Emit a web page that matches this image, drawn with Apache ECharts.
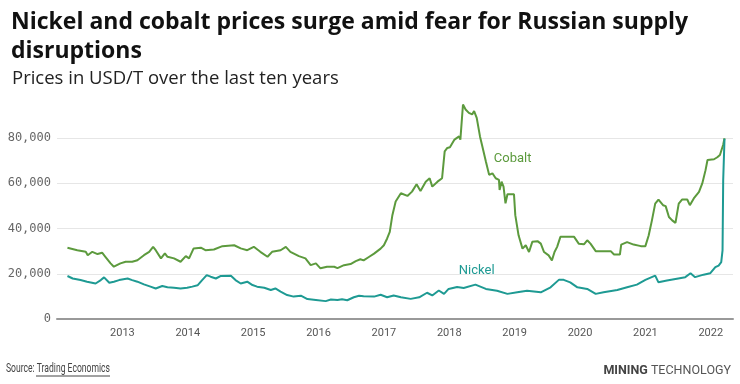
<!DOCTYPE html>
<html>
<head>
<meta charset="utf-8">
<script src="https://cdn.jsdelivr.net/npm/echarts@6/dist/echarts.min.js"></script>
<style>
html,body{margin:0;padding:0;background:#fff;}
#chart{width:740px;height:384px;}
</style>
</head>
<body>
<div id="chart"></div>
<script>
// Data (decimal years, USD/T)
const cobaltDates = [2012.16,2012.18,2012.31,2012.44,2012.47,2012.54,2012.62,2012.69,2012.74,2012.82,2012.87,2012.97,2013.05,2013.15,2013.23,2013.33,2013.41,2013.47,2013.51,2013.59,2013.65,2013.69,2013.79,2013.89,2013.97,2014.02,2014.09,2014.20,2014.27,2014.40,2014.53,2014.71,2014.81,2014.91,2015.01,2015.11,2015.22,2015.29,2015.42,2015.50,2015.57,2015.70,2015.80,2015.88,2015.96,2016.03,2016.13,2016.24,2016.29,2016.39,2016.49,2016.57,2016.64,2016.69,2016.77,2016.85,2016.95,2017.00,2017.05,2017.09,2017.13,2017.18,2017.26,2017.36,2017.43,2017.50,2017.56,2017.64,2017.70,2017.74,2017.82,2017.89,2017.93,2017.97,2018.01,2018.02,2018.08,2018.10,2018.15,2018.17,2018.21,2018.25,2018.30,2018.35,2018.38,2018.42,2018.47,2018.50,2018.56,2018.61,2018.66,2018.71,2018.76,2018.77,2018.80,2018.83,2018.86,2018.89,2018.99,2019.01,2019.06,2019.12,2019.17,2019.22,2019.27,2019.35,2019.40,2019.45,2019.52,2019.57,2019.61,2019.65,2019.70,2019.78,2019.91,2019.98,2020.06,2020.11,2020.16,2020.19,2020.24,2020.47,2020.52,2020.61,2020.63,2020.72,2020.82,2020.93,2021.00,2021.05,2021.10,2021.15,2021.20,2021.27,2021.31,2021.36,2021.41,2021.46,2021.51,2021.56,2021.64,2021.68,2021.74,2021.82,2021.87,2021.92,2021.95,2022.05,2022.10,2022.14,2022.19,2022.21];
const cobaltValues = [31500,32300,30400,29700,28200,29700,28700,29300,27500,24600,23100,24600,25300,25300,26000,28200,29700,31900,30400,26800,29000,27500,26800,25300,27800,26800,31200,31500,30400,30700,32200,32600,31200,30400,31900,29700,27500,29700,30400,31900,29700,27800,26800,23800,24600,22400,23100,23100,22500,23800,24300,25600,26400,25900,27400,28900,31100,32600,35600,38500,45900,51900,55600,54400,56300,59600,56600,60700,62200,58500,60700,62200,74100,75600,75900,75600,79300,80000,80700,79300,94800,92600,91100,90400,91900,88900,80700,77000,69600,63700,64400,62200,61500,57000,60700,58500,51100,55100,55100,45900,37000,31100,32600,29600,34100,34400,33300,29600,28100,25900,29600,31900,36300,36300,36300,33300,33000,34800,33300,32500,30000,30000,28500,28500,32900,34000,32900,32200,32200,36900,43600,51000,52800,50300,49900,45100,43600,42500,51000,52800,52800,50300,53300,56200,59900,65800,70300,70600,71500,72500,77000,79900];

const nickelDates = [2012.16,2012.24,2012.36,2012.46,2012.59,2012.67,2012.72,2012.80,2012.87,2012.95,2013.08,2013.15,2013.23,2013.33,2013.43,2013.51,2013.61,2013.69,2013.79,2013.89,2013.99,2014.07,2014.15,2014.22,2014.29,2014.35,2014.43,2014.50,2014.66,2014.73,2014.81,2014.91,2014.99,2015.06,2015.17,2015.27,2015.34,2015.42,2015.52,2015.62,2015.73,2015.83,2015.96,2016.11,2016.19,2016.29,2016.36,2016.44,2016.54,2016.62,2016.69,2016.85,2016.95,2017.05,2017.15,2017.26,2017.41,2017.54,2017.66,2017.74,2017.84,2017.92,2017.99,2018.12,2018.22,2018.40,2018.56,2018.73,2018.89,2019.04,2019.19,2019.40,2019.55,2019.68,2019.75,2019.85,2019.96,2020.11,2020.24,2020.36,2020.57,2020.72,2020.87,2021.00,2021.15,2021.20,2021.33,2021.46,2021.61,2021.69,2021.76,2021.89,2021.99,2022.07,2022.12,2022.16,2022.18,2022.19,2022.21];
const nickelValues = [19000,17900,17200,16500,15700,17200,18400,16000,16500,17200,17900,17200,16500,15300,14300,13500,14600,14000,13800,13500,13800,14300,14900,17200,19400,18700,17900,19000,19100,17200,15700,16500,15000,14300,13800,12800,13500,12100,10600,9900,10300,8800,8400,7900,8600,8400,8700,8300,9600,10300,10100,9900,10700,9600,10400,9600,8900,9600,11600,10400,12600,11100,13300,14100,13700,15200,13300,12500,11100,11800,12500,11800,14000,17400,17300,16200,14000,13300,11100,11800,12800,14000,15200,17300,19200,16200,17000,17700,18500,20200,18500,19600,20200,22900,23600,25100,30300,61300,79700];

const yTicks = [0, 20000, 40000, 60000, 80000];
const seriesNames = ['Cobalt', 'Nickel'];
const labelAnchors = { Cobalt: [2018.97, 70700], Nickel: [2018.42, 21200] };

const COBALT = '#5c9a3d';
const NICKEL = '#1e9a93';

const zip = (xs, ys) => xs.map((x, i) => [x, ys[i]]);

const chart = echarts.init(document.getElementById('chart'), null, {renderer: 'canvas'});

function seriesLabel(name, color) {
  return {
    symbol: 'circle', symbolSize: 0,
    data: [{ coord: labelAnchors[name], value: name }],
    label: { show: true, position: 'inside', formatter: name, color: color,
             fontFamily: 'Roboto', fontSize: 13 },
    itemStyle: { color: 'transparent' },
    silent: true
  };
}

chart.setOption({
  animation: false,
  backgroundColor: '#ffffff',
  title: [
    { text: 'Nickel and cobalt prices surge amid fear for Russian supply\ndisruptions',
      left: 6, top: 3,
      textStyle: { fontFamily: 'Open Sans', fontWeight: 700, fontSize: 23, lineHeight: 29, color: '#111' } },
    { text: 'Prices in USD/T over the last ten years',
      left: 7, top: 64,
      textStyle: { fontFamily: 'Open Sans', fontWeight: 400, fontSize: 18.5, color: '#222' } },
    { text: '{b|MINING}{r| TECHNOLOGY}',
      right: 4, top: 359,
      textStyle: { rich: {
        b: { fontFamily: 'Roboto', fontWeight: 700, fontSize: 12.5, color: '#444' },
        r: { fontFamily: 'Roboto', fontWeight: 400, fontSize: 12.5, color: '#555' } } } }
  ],
  grid: { left: 57, right: 7, top: 138, bottom: 65 },
  xAxis: {
    type: 'value', min: 2012, max: 2022.34, interval: 1,
    axisLine: { show: true, onZero: false, lineStyle: { color: '#999', width: 2 } },
    axisTick: { show: false },
    splitLine: { show: false },
    axisLabel: { color: '#555', fontFamily: 'Roboto', fontSize: 11, margin: 9,
      formatter: v => (v === 2012 ? '' : String(v)) }
  },
  yAxis: {
    type: 'value', min: yTicks[0], max: yTicks[yTicks.length - 1], interval: 20000,
    axisLine: { show: false }, axisTick: { show: false },
    splitLine: { lineStyle: { color: '#e6e6e6', width: 1 } },
    axisLabel: { color: '#666', fontFamily: 'DejaVu Sans Mono', fontSize: 12, margin: 6,
      formatter: v => v.toLocaleString('en-US') }
  },
  series: [
    { name: seriesNames[0], type: 'line', data: zip(cobaltDates, cobaltValues),
      showSymbol: false, clip: false, lineStyle: { color: COBALT, width: 2 },
      itemStyle: { color: COBALT }, z: 2,
      markPoint: seriesLabel('Cobalt', COBALT) },
    { name: seriesNames[1], type: 'line', data: zip(nickelDates, nickelValues),
      showSymbol: false, clip: false, lineStyle: { color: NICKEL, width: 2 },
      itemStyle: { color: NICKEL }, z: 3,
      markPoint: seriesLabel('Nickel', NICKEL) }
  ],
  graphic: [
    { type: 'text', left: 6, top: 362, scaleX: 0.66, originX: 0,
      style: { text: 'Source: Trading Economics', font: '13px Roboto', fill: '#444' }, silent: true },
    { type: 'line', shape: { x1: 36, y1: 376, x2: 110, y2: 376 },
      style: { stroke: '#444', lineWidth: 1 }, silent: true }
  ]
});
</script>
</body>
</html>
